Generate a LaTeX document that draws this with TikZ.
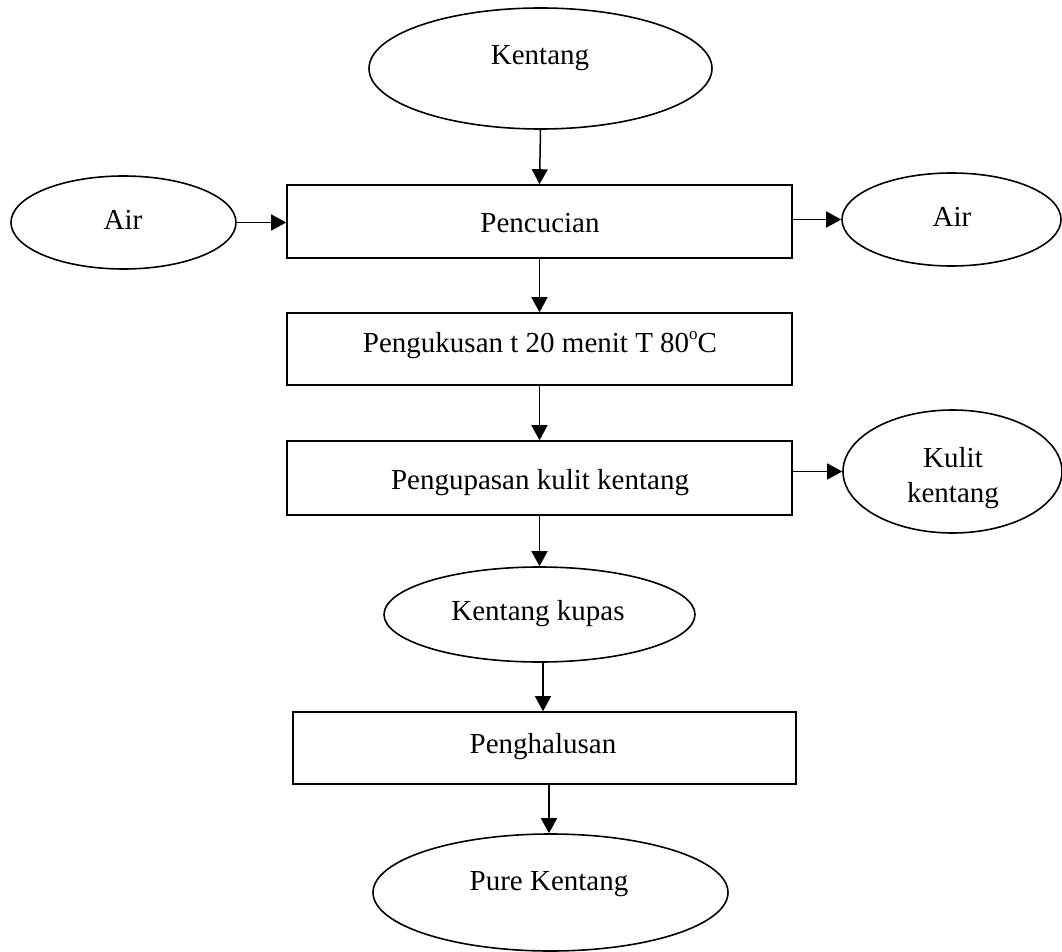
\documentclass[tikz,border=0pt]{standalone}
\usepackage{fontspec}
\setmainfont{Liberation Serif}
\usetikzlibrary{shapes.geometric,arrows.meta}
\begin{document}
\begin{tikzpicture}[x=1pt,y=-1pt,
  oval/.style={draw,ellipse,line width=1.6pt,inner sep=0pt},
  box/.style={draw,rectangle,line width=1.6pt,inner sep=0pt},
  txt/.style={inner sep=0pt,font=\fontsize{29}{35}\selectfont},
  arr/.style={line width=1.5pt,-{Triangle[length=15pt,width=16pt]}}]
\useasboundingbox (0,0) rectangle (1062,952);
% shapes
\node[oval,minimum width=343pt,minimum height=121pt] (kentang) at (540.5,68.5) {};
\node[box,minimum width=505pt,minimum height=73pt] (pencucian) at (539.5,221.5) {};
\node[oval,minimum width=225pt,minimum height=93pt] (airL) at (123.5,222.5) {};
\node[oval,minimum width=219pt,minimum height=93pt] (airR) at (951.5,219.5) {};
\node[box,minimum width=505pt,minimum height=72pt] (kukus) at (539.5,349) {};
\node[box,minimum width=505pt,minimum height=74pt] (kupas) at (539.5,478) {};
\node[oval,minimum width=219pt,minimum height=123pt] (kulit) at (952.5,471.5) {};
\node[oval,minimum width=311pt,minimum height=95pt] (kkupas) at (539.5,614.5) {};
\node[box,minimum width=503pt,minimum height=72pt] (halus) at (544.5,748) {};
\node[oval,minimum width=355pt,minimum height=117pt] (pure) at (550.5,892.5) {};
% texts
\node[txt,anchor=base] (tKentang) at (540,65) {Kentang};
\node[txt,anchor=base] (tPencucian) at (540,232) {Pencucian};
\node[txt,anchor=base] (tAirL) at (123,229) {Air};
\node[txt,anchor=base] (tAirR) at (952,226) {Air};
\node[txt,anchor=base] (tKukus) at (540,352) {Pengukusan t 20 menit T 80\raisebox{0.42em}{\fontsize{17}{17}\selectfont o}C};
\node[txt,anchor=base] (tKupas) at (540,489) {Pengupasan kulit kentang};
\node[txt,anchor=base] (tKulit1) at (953,467) {Kulit};
\node[txt,anchor=base] (tKulit2) at (953,502) {kentang};
\node[txt,anchor=base] (tKKupas) at (538,620) {Kentang kupas};
\node[txt,anchor=base] (tHalus) at (543,753) {Penghalusan};
\node[txt,anchor=base] (tPure) at (549,890) {Pure Kentang};
% connectors
\draw[arr] (kentang.south) -- (pencucian.north);
\draw[arr] (airL.east) -- (pencucian.west |- airL.east);
\draw[arr] (pencucian.east |- airR.west) -- (airR.west);
\draw[arr] (pencucian.south) -- (kukus.north);
\draw[arr] (kukus.south) -- (kupas.north);
\draw[arr] (kupas.east |- kulit.west) -- (kulit.west);
\draw[arr] (kupas.south) -- (kkupas.north);
\draw[arr] (kkupas.south -| tHalus.base) -- (halus.north -| tHalus.base);
\draw[arr] (halus.south -| tPure.base) -- (pure.north -| tPure.base);
\end{tikzpicture}
\end{document}
